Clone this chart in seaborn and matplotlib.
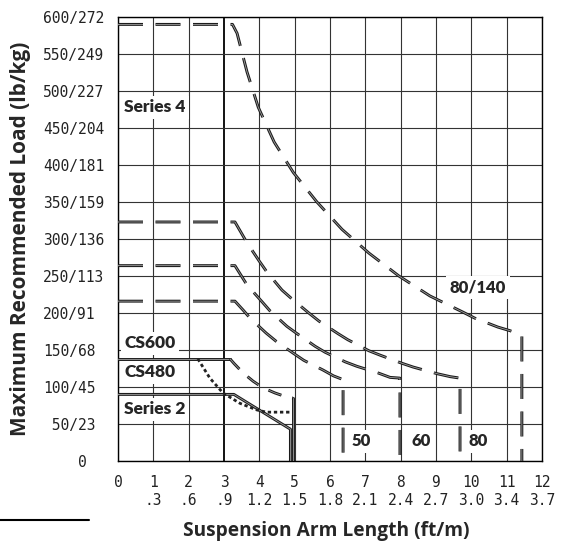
import matplotlib
matplotlib.use("Agg")
import matplotlib.pyplot as plt
import matplotlib.patheffects as pe
from matplotlib.lines import Line2D
import pandas as pd
import seaborn as sns

# ---------------- data ----------------
x_ft = list(range(0, 13))
x_m_labels = ["", ".3", ".6", ".9", "1.2", "1.5", "1.8", "2.1", "2.4", "2.7", "3.0", "3.4", "3.7"]
y_lb = list(range(0, 650, 50))
y_kg = [0, 23, 45, 68, 91, 113, 136, 159, 181, 204, 227, 249, 272]

series4_x = [0, 3.24, 3.37, 3.65, 3.97, 4.42, 4.96, 5.63, 6.34, 7.1, 7.95, 8.83, 9.77, 10.1, 10.75, 11.1, 11.43, 11.43]
series4_y = [590, 590, 578, 526, 478, 431, 390, 350, 313, 281, 250, 223, 201, 193, 181, 176, 170, 0]

arm80_x = [0, 3.31, 3.48, 3.65, 4.0, 4.22, 4.64, 4.9, 5.4, 5.69, 6.23, 6.5, 7.1, 7.42, 8.04, 8.35, 9.03, 9.4, 9.68, 9.68]
arm80_y = [323, 323, 309, 295, 270, 255, 231, 220, 200, 189, 172, 164, 149, 143, 132, 127, 118, 114, 112, 0]

arm60_x = [0, 3.31, 3.48, 3.65, 4.08, 4.3, 4.78, 5.04, 5.58, 5.86, 6.43, 6.76, 7.36, 7.7, 7.98, 7.98]
arm60_y = [264, 264, 251, 238, 215, 203, 182, 173, 155, 147, 134, 128, 119, 113, 112, 0]

arm50_x = [0, 3.31, 3.54, 3.74, 4.19, 4.47, 4.95, 5.26, 5.8, 6.1, 6.37, 6.37]
arm50_y = [216, 216, 204, 193, 173, 162, 146, 136, 123, 115, 110, 0]

cs600_flat_x = [0, 3.17]
cs600_flat_y = [138, 138]
cs600_curve_x = [3.17, 3.28, 3.54, 3.82, 4.1, 4.44, 4.8, 4.95]
cs600_curve_y = [138, 132, 119, 108, 99, 92, 86, 85]
cs600_drop_x = [4.95, 4.95]
cs600_drop_y = [85, 0]

cs480_x = [2.26, 2.6, 2.97, 3.45, 3.93, 4.2, 4.95]
cs480_y = [138, 112, 92, 78, 69, 66, 66]

series2_x = [0, 3.28, 4.88, 4.88]
series2_y = [90, 90, 43, 0]

curve_labels = ["Series 4", "CS600", "CS480", "Series 2"]
curve_label_y = [478, 159, 120, 70]
arm_labels = ["50", "60", "80", "80/140"]
arm_label_x = [6.88, 8.58, 10.19, 10.19]
arm_label_y = [27, 27, 27, 234]

# ---------------- figure ----------------
sns.set_theme(style="white")
plt.rcParams["font.family"] = ["DejaVu Sans"]
fig = plt.figure(figsize=(5.62, 5.44), dpi=100)
ax = fig.add_axes([118 / 562, 1 - 461 / 544, 424 / 562, 444 / 544])
ax.set_xlim(0, 12)
ax.set_ylim(0, 600)

# grid
for v in x_ft:
    ax.axvline(v, color="black" if v == 3 else "#333333", lw=1.3 if v == 3 else 0.8, zorder=1)
for v in y_lb:
    ax.axhline(v, color="#333333", lw=0.8, zorder=1)
for s in ax.spines.values():
    s.set_color("black")
    s.set_linewidth(1.0)

dbl = [pe.Stroke(linewidth=2.1, foreground="#1a1a1a"),
       pe.Stroke(linewidth=0.6, foreground="#a0a0a0")]


def draw(xs, ys, style, lw=2.0, effects=True):
    df = pd.DataFrame({"x": xs, "y": ys})
    sns.lineplot(data=df, x="x", y="y", sort=False, estimator=None, ax=ax,
                 color="#1a1a1a", lw=lw, linestyle=style, zorder=3,
                 path_effects=dbl if effects else None)


long_dash = (0, (9, 4.5))
draw(series4_x, series4_y, long_dash)
draw(arm80_x, arm80_y, long_dash)
draw(arm60_x, arm60_y, long_dash)
draw(arm50_x, arm50_y, long_dash)
draw(cs600_flat_x, cs600_flat_y, "-")
draw(cs600_curve_x, cs600_curve_y, (0, (5, 4)))
draw(cs600_drop_x, cs600_drop_y, "-")
draw(series2_x, series2_y, "-")
df480 = pd.DataFrame({"x": cs480_x, "y": cs480_y})
sns.lineplot(data=df480, x="x", y="y", sort=False, estimator=None, ax=ax,
             color="#222222", lw=2.0, linestyle=(0, (1.2, 1.0)), zorder=3)

box = dict(facecolor="white", edgecolor="none", pad=2.5)
for t, yv in zip(curve_labels, curve_label_y):
    ax.text(0.18, yv, t, ha="left", va="center", fontsize=12.5, fontweight="heavy",
            family="Lato", bbox=box, zorder=4)
for t, xv, yv in zip(arm_labels, arm_label_x, arm_label_y):
    ax.text(xv, yv, t, ha="center", va="center", fontsize=12, fontweight="heavy",
            family="Lato", bbox=box, zorder=4)

# ticks
ylabels = []
for lb, kg in zip(y_lb, y_kg):
    if lb == 0:
        ylabels.append("    0")
    else:
        s = f"{lb}/{kg}"
        if lb < 100:
            s = " " + s
        ylabels.append(s)
ax.set_yticks(y_lb)
ax.set_yticklabels(ylabels, family="DejaVu Sans Mono", fontsize=10.5, color="#222222")
for lab in ax.get_yticklabels():
    lab.set_horizontalalignment("left")
ax.tick_params(axis="y", length=0, pad=54)

ax.set_xticks(x_ft)
ax.set_xticklabels([f"{a}\n{b}" if b else f"{a}" for a, b in zip(x_ft, x_m_labels)],
                   family="DejaVu Sans Mono", fontsize=10.5, linespacing=1.3, color="#222222")
ax.tick_params(axis="x", length=0, pad=10)

ax.set_xlabel("Suspension Arm Length (ft/m)", family="Open Sans", fontweight="bold",
              fontsize=13.8)
ax.set_ylabel("Maximum Recommended Load (lb/kg)", family="Open Sans", fontweight="bold",
              fontsize=15)
ax.xaxis.set_label_coords(0.49, -0.135)
ax.yaxis.set_label_coords(-0.205, 0.5)

fig.add_artist(Line2D([0, 89 / 562], [1 - 520 / 544] * 2, color="black", lw=1.5,
                      transform=fig.transFigure))

fig.savefig("out.png", dpi=100)
